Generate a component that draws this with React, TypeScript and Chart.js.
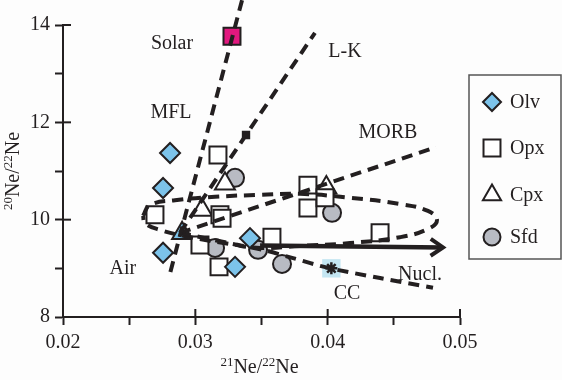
import React, { useEffect, useRef } from 'react';
import { Chart, registerables } from 'chart.js';
import { drawPoint } from 'chart.js/helpers';

Chart.register(...registerables);

// ---- axis ranges / ticks ----
const xRange = [0.02, 0.05];
const yRange = [8, 14];
const xStep = 0.005;
const yStep = 1;

// ---- sample series (21Ne/22Ne, 20Ne/22Ne) ----
const olvX = [0.02809, 0.02756, 0.02756, 0.0330, 0.03413];
const olvY = [11.37, 10.65, 9.32, 9.03, 9.62];

const opxX = [0.03171, 0.02695, 0.03186, 0.03202, 0.03035, 0.03179, 0.03579, 0.03851, 0.03851, 0.0398, 0.04396];
const opxY = [11.33, 10.10, 10.10, 10.03, 9.48, 9.03, 9.64, 10.71, 10.24, 10.45, 9.73];

const cpxX = [0.03224, 0.0305, 0.0399];
const cpxY = [10.74, 10.20, 10.66];

const sfdX = [0.033, 0.03149, 0.03474, 0.03655, 0.04033];
const sfdY = [10.86, 9.42, 9.38, 9.09, 10.14];

const airX = [0.0290];
const airY = [9.72];

const solarX = [0.03277];
const solarY = [13.77];

const ccX = [0.04028];
const ccY = [9.0];

const lkMarkX = [0.03383];
const lkMarkY = [11.74];

// ---- reference lines ----
const solarLineX = [0.03353, 0.02809];
const solarLineY = [14.51, 8.9];

const lkLineX = [0.02884, 0.03904];
const lkLineY = [9.73, 13.84];

const morbLineX = [0.02884, 0.04819];
const morbLineY = [9.73, 11.49];

const ccLineX = [0.02884, 0.03285, 0.03511, 0.03738, 0.04003, 0.04396, 0.04796];
const ccLineY = [9.73, 9.5, 9.38, 9.21, 9.01, 8.8, 8.6];

const loopX = [0.02605, 0.02657, 0.02846, 0.03149, 0.03489, 0.03791, 0.04169, 0.04547, 0.04758, 0.04826, 0.04758, 0.04547, 0.04169, 0.03791, 0.03489, 0.03262, 0.0296, 0.02733, 0.0262, 0.02605];
const loopY = [10.08, 10.3, 10.4, 10.47, 10.51, 10.53, 10.45, 10.32, 10.18, 9.99, 9.81, 9.64, 9.52, 9.46, 9.42, 9.5, 9.64, 9.79, 9.93, 10.08];

const nuclArrowX = [0.03489, 0.04872];
const nuclArrowY = [9.47, 9.43];

// ---- text labels ----
const labelTexts = ['Solar', 'MFL', 'L-K', 'MORB', 'Air', 'Nucl.', 'CC'];
const labelX = [0.02824, 0.02816, 0.04131, 0.04456, 0.02453, 0.04698, 0.04146];
const labelY = [13.51, 12.09, 13.34, 11.68, 8.88, 8.76, 8.37];

const legendNames = ['Olv', 'Opx', 'Cpx', 'Sfd'];

const INK = '#231f20';
const FONT = 'Liberation Serif, "Times New Roman", serif';
const OLV_FILL = '#7cc3ea';
const SFD_FILL = '#b8bbc3';

const pts = (xs: number[], ys: number[]) => xs.map((x, i) => ({ x, y: ys[i] }));

const dashedLine = (label: string, xs: number[], ys: number[], extra: any = {}) => ({
  type: 'line' as const,
  label,
  data: pts(xs, ys),
  showLine: true,
  borderColor: INK,
  borderWidth: 4,
  borderDash: [11, 7],
  pointRadius: 0,
  fill: false,
  order: 0,
  ...extra,
});

const legendStyles = [
  { style: 'rectRot', radius: 9, fill: OLV_FILL },
  { style: 'rect', radius: 12, fill: '#ffffff' },
  { style: 'triangle', radius: 10.5, fill: '#ffffff' },
  { style: 'circle', radius: 8.5, fill: SFD_FILL },
];

const overlayPlugin = {
  id: 'overlay',
  afterDraw(chart: any) {
    const { ctx, scales, chartArea } = chart;
    const xs = scales.x;
    const ys = scales.y;
    ctx.save();

    // inward parts of labelled ticks
    ctx.strokeStyle = INK;
    ctx.lineWidth = 2;
    xs.ticks.forEach((t: any) => {
      const isMajor = Math.abs(Math.round(t.value * 100) - t.value * 100) < 1e-6;
      if (!isMajor || Math.abs(t.value - xRange[0]) < 1e-9) return;
      const px = xs.getPixelForValue(t.value);
      ctx.beginPath();
      ctx.moveTo(px, chartArea.bottom);
      ctx.lineTo(px, chartArea.bottom - 8);
      ctx.stroke();
    });
    ys.ticks.forEach((t: any) => {
      if (t.value % 2 !== 0 || t.value === yRange[0]) return;
      const py = ys.getPixelForValue(t.value);
      ctx.beginPath();
      ctx.moveTo(chartArea.left, py);
      ctx.lineTo(chartArea.left + 8, py);
      ctx.stroke();
    });

    // arrow head for Nucl.
    const n = nuclArrowX.length;
    const ax = xs.getPixelForValue(nuclArrowX[n - 1]);
    const ay = ys.getPixelForValue(nuclArrowY[n - 1]);
    const bx = xs.getPixelForValue(nuclArrowX[n - 2]);
    const by = ys.getPixelForValue(nuclArrowY[n - 2]);
    const ang = Math.atan2(ay - by, ax - bx);
    const len = 15;
    const spread = 0.6;
    ctx.lineWidth = 4;
    ctx.lineJoin = 'miter';
    ctx.beginPath();
    ctx.moveTo(ax - len * Math.cos(ang - spread), ay - len * Math.sin(ang - spread));
    ctx.lineTo(ax, ay);
    ctx.lineTo(ax - len * Math.cos(ang + spread), ay - len * Math.sin(ang + spread));
    ctx.stroke();

    // text labels
    ctx.fillStyle = INK;
    ctx.font = `20px ${FONT}`;
    ctx.textAlign = 'center';
    ctx.textBaseline = 'alphabetic';
    labelTexts.forEach((s, i) => {
      ctx.fillText(s, xs.getPixelForValue(labelX[i]), ys.getPixelForValue(labelY[i]));
    });

    // axis titles with superscripts
    const drawIso = (parts: [string, boolean][], cx: number, cy: number) => {
      let w = 0;
      parts.forEach(([s, sup]) => {
        ctx.font = sup ? `13px ${FONT}` : `20px ${FONT}`;
        w += ctx.measureText(s).width;
      });
      let x = cx - w / 2;
      ctx.textAlign = 'left';
      parts.forEach(([s, sup]) => {
        ctx.font = sup ? `13px ${FONT}` : `20px ${FONT}`;
        ctx.fillText(s, x, sup ? cy - 7 : cy);
        x += ctx.measureText(s).width;
      });
    };
    const midX = (chartArea.left + chartArea.right) / 2;
    drawIso([['21', true], ['Ne/', false], ['22', true], ['Ne', false]], midX - 2, 373);
    ctx.save();
    ctx.translate(19, (chartArea.top + chartArea.bottom) / 2);
    ctx.rotate(-Math.PI / 2);
    drawIso([['20', true], ['Ne/', false], ['22', true], ['Ne', false]], 0, 0);
    ctx.restore();

    // legend box
    const lx = 469, ly = 75, lw = 92, lh = 184;
    ctx.strokeStyle = '#555';
    ctx.lineWidth = 1.5;
    ctx.strokeRect(lx, ly, lw, lh);
    const rowY = [102, 148, 195, 237];
    legendNames.forEach((name, i) => {
      const st = legendStyles[i];
      ctx.fillStyle = st.fill;
      ctx.strokeStyle = INK;
      ctx.lineWidth = 2;
      drawPoint(ctx, { pointStyle: st.style, radius: st.radius, rotation: 0, borderWidth: 2 } as any, 492, rowY[i]);
      ctx.fillStyle = INK;
      ctx.font = `20px ${FONT}`;
      ctx.textAlign = 'left';
      ctx.textBaseline = 'middle';
      ctx.fillText(name, 510, rowY[i] + 1);
    });
    ctx.restore();
  },
};

export default function App() {
  const ref = useRef<HTMLCanvasElement | null>(null);
  useEffect(() => {
    document.body.style.margin = '0';
    const canvas = ref.current;
    if (!canvas) return;
    const markers = (label: string, xs: number[], ys: number[], style: string, radius: number, fill: string, extra: any = {}) => ({
      type: 'scatter' as const,
      label,
      data: pts(xs, ys),
      pointStyle: style,
      pointRadius: radius,
      pointHoverRadius: radius,
      pointBackgroundColor: fill,
      pointBorderColor: INK,
      pointBorderWidth: 2,
      showLine: false,
      order: 1,
      ...extra,
    });
    const chart = new Chart(canvas, {
      type: 'scatter',
      data: {
        datasets: [
          dashedLine('Solar line', solarLineX, solarLineY, { clip: false }),
          dashedLine('L-K line', lkLineX, lkLineY),
          dashedLine('MORB line', morbLineX, morbLineY),
          dashedLine('CC line', ccLineX, ccLineY, { tension: 0.3 }),
          dashedLine('Loop', loopX, loopY, { tension: 0.45 }),
          {
            type: 'line' as const,
            label: 'Nucl.',
            data: pts(nuclArrowX, nuclArrowY),
            showLine: true,
            borderColor: INK,
            borderWidth: 4.5,
            pointRadius: 0,
            fill: false,
            order: 0,
          },
          markers('CC mark', ccX, ccY, 'star', 6, INK, { pointBorderWidth: 2.5, order: 2 }),
          markers('CC bg', ccX, ccY, 'rect', 13, '#c4e6f2', { pointBorderWidth: 0, pointBorderColor: 'rgba(0,0,0,0)', order: 3 }),
          markers('LK mark', lkMarkX, lkMarkY, 'rect', 4.5, INK, { order: 2 }),
          markers('Olv', olvX, olvY, 'rectRot', 10, OLV_FILL),
          markers('Opx', opxX, opxY, 'rect', 12, '#ffffff'),
          markers('Cpx', cpxX, cpxY, 'triangle', 11.5, '#ffffff'),
          markers('Sfd', sfdX, sfdY, 'circle', 9, SFD_FILL),
          markers('Air', airX, airY, 'triangle', 11.5, OLV_FILL),
          markers('Solar', solarX, solarY, 'rect', 12, '#e2187f'),
        ] as any,
      },
      options: {
        responsive: false,
        devicePixelRatio: 1,
        animation: false,
        events: [],
        layout: { padding: { top: 25, right: 102, left: 0, bottom: 0 } },
        plugins: { legend: { display: false }, tooltip: { enabled: false }, title: { display: false } },
        scales: {
          x: {
            type: 'linear',
            min: xRange[0],
            max: xRange[1],
            afterFit: (s: any) => { s.height = 63; },
            ticks: {
              stepSize: xStep,
              autoSkip: false,
              maxRotation: 0,
              padding: 6,
              color: INK,
              font: { family: FONT, size: 20 },
              callback: (v: any) => {
                const n = Number(v);
                return Math.abs(Math.round(n * 100) - n * 100) < 1e-6 ? n.toFixed(2) : '';
              },
            },
            grid: { drawOnChartArea: false, drawTicks: true, tickLength: 8, tickWidth: 2, tickColor: INK },
            border: { display: true, color: INK, width: 2 },
          },
          y: {
            type: 'linear',
            min: yRange[0],
            max: yRange[1],
            afterFit: (s: any) => { s.width = 63; },
            ticks: {
              stepSize: yStep,
              autoSkip: false,
              padding: 5,
              color: INK,
              font: { family: FONT, size: 20 },
              callback: (v: any) => (Number(v) % 2 === 0 ? String(v) : ''),
            },
            grid: { drawOnChartArea: false, drawTicks: true, tickLength: 8, tickWidth: 2, tickColor: INK },
            border: { display: true, color: INK, width: 2 },
          },
        },
      } as any,
      plugins: [overlayPlugin],
    });
    return () => chart.destroy();
  }, []);
  return (
    <div style={{ width: 562, height: 380, background: '#fdfdfd' }}>
      <canvas ref={ref} width={562} height={380} />
    </div>
  );
}
